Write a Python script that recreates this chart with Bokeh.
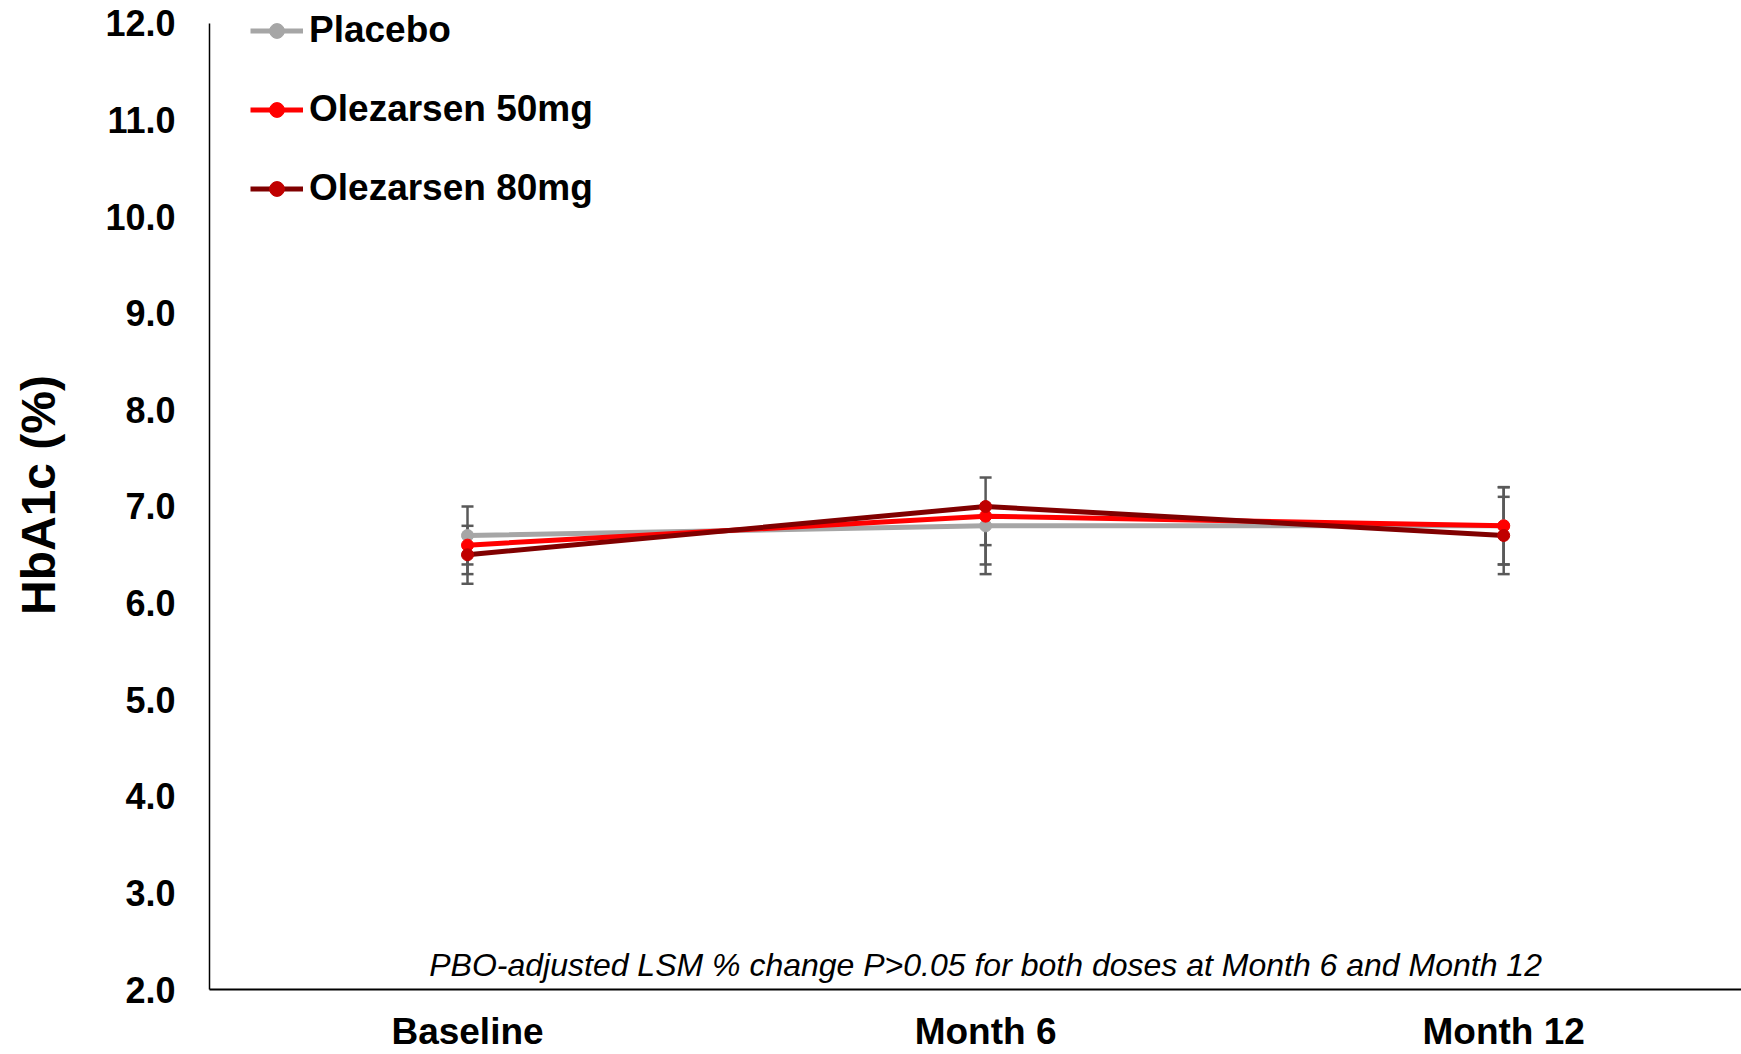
from bokeh.plotting import figure
from bokeh.models import Range1d, FixedTicker, Legend, LegendItem, Label, ColumnDataSource
from bokeh.embed import file_html
from bokeh.resources import INLINE

categories = ["Baseline", "Month 6", "Month 12"]
y_ticks = [2.0, 3.0, 4.0, 5.0, 6.0, 7.0, 8.0, 9.0, 10.0, 11.0, 12.0]

series_names = ["Placebo", "Olezarsen 50mg", "Olezarsen 80mg"]
placebo = [6.7, 6.8, 6.8]
placebo_lo = [6.4, 6.4, 6.4]
placebo_hi = [7.0, 6.8, 7.2]
ole50 = [6.6, 6.9, 6.8]
ole50_lo = [6.3, 6.3, 6.4]
ole50_hi = [6.8, 6.9, 7.2]
ole80 = [6.5, 7.0, 6.7]
ole80_lo = [6.2, 6.6, 6.3]
ole80_hi = [6.5, 7.3, 7.1]

line_colors = ["#A6A6A6", "#FF0000", "#800000"]
marker_colors = ["#A6A6A6", "#FF0000", "#C00000"]

FONT = "Liberation Sans"
x = list(range(len(categories)))

p = figure(width=1741, height=1054, output_backend="svg", toolbar_location=None,
           x_range=Range1d(-0.498, 2.459), y_range=Range1d(2.0, 12.238),
           min_border_left=209, min_border_right=0, min_border_top=0, min_border_bottom=64)
p.outline_line_color = None
p.xgrid.visible = False
p.ygrid.visible = False
p.background_fill_color = "white"
p.border_fill_color = "white"

# error bars
all_vals = [placebo, ole50, ole80]
all_lo = [placebo_lo, ole50_lo, ole80_lo]
all_hi = [placebo_hi, ole50_hi, ole80_hi]
for lo, hi in zip(all_lo, all_hi):
    p.segment(x0=x, y0=lo, x1=x, y1=hi, line_color="#595959", line_width=2.5)
    p.scatter(x=x + x, y=lo + hi, marker="dash", size=12, line_color="#595959", line_width=2.5)

items = []
for name, vals, lc, mc in zip(series_names, all_vals, line_colors, marker_colors):
    src = ColumnDataSource(dict(x=x, y=vals))
    lr = p.line("x", "y", source=src, line_color=lc, line_width=5)
    mr = p.scatter("x", "y", source=src, size=12, fill_color=mc, line_color=mc)
    items.append(LegendItem(label=name, renderers=[lr, mr]))

legend = Legend(items=items, location=(41, 780), orientation="vertical",
                border_line_color=None, background_fill_alpha=0,
                padding=0, margin=0, spacing=37, glyph_width=53, glyph_height=37,
                label_height=37, label_standoff=6,
                label_text_font=FONT, label_text_font_style="bold",
                label_text_font_size="37px", label_text_color="black")
p.add_layout(legend, "center")

# axes
xa = p.xaxis[0]
xa.ticker = FixedTicker(ticks=x)
xa.major_label_overrides = {i: c for i, c in enumerate(categories)}
xa.major_tick_line_color = None
xa.minor_tick_line_color = None
xa.major_tick_out = 0
xa.axis_line_color = "black"
xa.axis_line_width = 2
xa.major_label_text_font = FONT
xa.major_label_text_font_style = "bold"
xa.major_label_text_font_size = "37px"
xa.major_label_text_color = "black"
xa.major_label_standoff = 21

ya = p.yaxis[0]
ya.bounds = (2.0, 12.0)
ya.ticker = FixedTicker(ticks=y_ticks)
ya.major_label_overrides = {v: f"{v:.1f}" for v in y_ticks}
ya.major_tick_line_color = None
ya.minor_tick_line_color = None
ya.major_tick_out = 0
ya.axis_line_color = "black"
ya.axis_line_width = 1.5
ya.major_label_text_font = FONT
ya.major_label_text_font_style = "bold"
ya.major_label_text_font_size = "36px"
ya.major_label_text_color = "black"
ya.major_label_standoff = 34
ya.axis_label = "HbA1c (%)"
ya.axis_label_text_font = FONT
ya.axis_label_text_font_style = "bold"
ya.axis_label_text_font_size = "48px"
ya.axis_label_text_color = "black"
ya.axis_label_standoff = 37

note = Label(x=1.0, y=2.25, text="PBO-adjusted LSM % change P>0.05 for both doses at Month 6 and Month 12",
             text_align="center", text_baseline="middle", text_font=FONT,
             text_font_style="italic", text_font_size="32px", text_color="black")
p.add_layout(note)

open("out.html", "w").write(file_html(p, INLINE))
